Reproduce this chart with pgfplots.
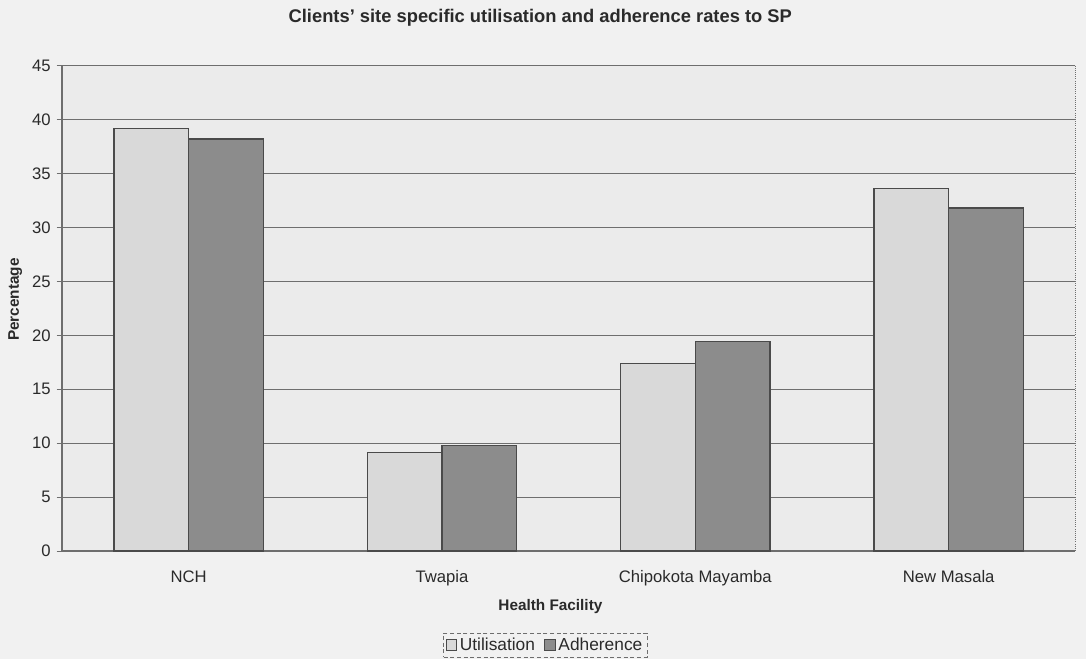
\documentclass[border=0pt]{standalone}
\usepackage{fontspec}
\setmainfont{Liberation Sans}
\usepackage{pgfplots}
\pgfplotsset{compat=1.18}
\definecolor{utilc}{HTML}{D9D9D9}
\definecolor{adhc}{HTML}{8C8C8C}
\definecolor{edgec}{HTML}{4A4A4A}
\definecolor{gridc}{HTML}{6E6E6E}
\definecolor{bgc}{HTML}{F1F1F1}
\definecolor{plotbg}{HTML}{EBEBEB}
\definecolor{txtc}{HTML}{2A2A2A}
\begin{document}
\begin{tikzpicture}
\path[use as bounding box, fill=bgc] (-46.5pt,-81pt) rectangle (768pt,413.25pt);
\begin{axis}[
  at={(0pt,0pt)}, anchor=south west,
  scale only axis, width=760pt, height=364pt,
  axis background/.style={fill=plotbg},
  ymin=0, ymax=45, ytick={0,5,...,45},
  xmin=-0.5, xmax=3.5, xtick={0,1,2,3},
  xticklabels={NCH,Twapia,Chipokota Mayamba,New Masala},
  ybar=0pt, bar width=56pt,
  ymajorgrids, grid style={draw=gridc, line width=0.7pt},
  axis x line*=bottom, axis y line*=left,
  axis line style={draw=gridc, line width=0.8pt, -},
  xtick style={draw=none},
  ytick style={draw=gridc, line width=0.7pt},
  tick align=outside, major tick length=4pt,
  /pgf/number format/assume math mode=true,
  tick label style={font=\fontsize{12.5}{14}\selectfont, text=txtc},
  xticklabel style={yshift=-7pt},
  yticklabel style={xshift=-1pt},
  legend style={at={(rel axis cs:0.477,0)}, yshift=-70.5pt, anchor=center,
    legend columns=2, draw=gridc, densely dashed, fill=bgc,
    font=\fontsize{13}{15}\selectfont, text=txtc,
    /tikz/every even column/.append style={column sep=5pt},
    inner sep=1.5pt},
  legend image code/.code={\draw[#1, solid, line width=0.6pt] (0pt,-4pt) rectangle (8pt,4pt);},
  clip=false,
]
\addplot[fill=utilc, draw=edgec, line width=0.8pt] coordinates {(0,39.2) (1,9.1) (2,17.4) (3,33.6)};
\addlegendentry{Utilisation}
\addplot[fill=adhc, draw=edgec, line width=0.8pt] coordinates {(0,38.2) (1,9.8) (2,19.4) (3,31.8)};
\addlegendentry{Adherence}
\draw[gridc, densely dotted, line width=0.6pt] (rel axis cs:0,1) -- (rel axis cs:1,1) -- (rel axis cs:1,0);
\node[font=\bfseries\fontsize{13.75}{16}\selectfont, text=txtc] at ([yshift=36pt]rel axis cs:0.472,1) {Clients' site specific utilisation and adherence rates to SP};
\node[font=\bfseries\fontsize{11.5}{13}\selectfont, text=txtc] at ([yshift=-42pt]rel axis cs:0.482,0) {Health Facility};
\node[font=\bfseries\fontsize{11.5}{13}\selectfont, text=txtc, rotate=90] at ([xshift=-35pt]rel axis cs:0,0.518) {Percentage};
\end{axis}
\end{tikzpicture}
\end{document}
